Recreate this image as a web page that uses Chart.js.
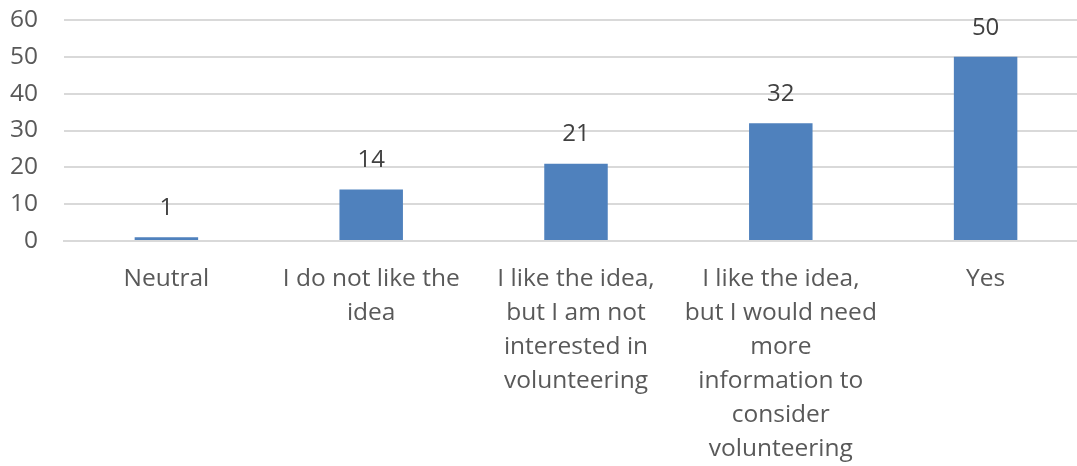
<!DOCTYPE html>
<html>
<head>
<meta charset="utf-8">
<script src="https://cdn.jsdelivr.net/npm/chart.js@4"></script>
<style>
  html, body { margin: 0; padding: 0; background: #fff; overflow: hidden; }
  #wrap { width: 1100px; height: 466px; }
</style>
</head>
<body>
<div id="wrap"><canvas id="chart"></canvas></div>
<script>
// antwoorden en aantallen
const categories = [
  ['Neutral'],
  ['I do not like the', 'idea'],
  ['I like the idea,', 'but I am not', 'interested in', 'volunteering'],
  ['I like the idea,', 'but I would need', 'more', 'information to', 'consider', 'volunteering'],
  ['Yes']
];
const counts = [1, 14, 21, 32, 50];
const yTicks = [0, 10, 20, 30, 40, 50, 60];

const textColor = '#595959';
const gridColor = '#D9D9D9';
const fontFamily = '"Open Sans", sans-serif';

// waarde boven elke staaf tekenen
const valueLabels = {
  id: 'valueLabels',
  afterDatasetsDraw(chart) {
    const ctx = chart.ctx;
    const meta = chart.getDatasetMeta(0);
    ctx.save();
    ctx.font = '24px ' + fontFamily;
    ctx.fillStyle = '#404040';
    ctx.textAlign = 'center';
    ctx.textBaseline = 'middle';
    meta.data.forEach((bar, i) => {
      ctx.fillText(String(counts[i]), bar.x, bar.y - 29);
    });
    ctx.restore();
  }
};

const ctx = document.getElementById('chart').getContext('2d');
new Chart(ctx, {
  type: 'bar',
  data: {
    labels: categories,
    datasets: [{
      data: counts,
      backgroundColor: '#4F81BD',
      borderWidth: 0,
      categoryPercentage: 1,
      barPercentage: 0.31
    }]
  },
  options: {
    responsive: true,
    maintainAspectRatio: false,
    animation: false,
    layout: { padding: { top: 20, left: 10, right: 12, bottom: 0 } },
    plugins: {
      legend: { display: false },
      tooltip: { enabled: false }
    },
    scales: {
      x: {
        afterFit(axis) {
          axis.height = 225;
          axis.paddingLeft = 0;
          axis.paddingRight = 0;
        },
        grid: { display: false },
        border: { display: true, color: gridColor, width: 2 },
        ticks: {
          color: textColor,
          font: { family: fontFamily, size: 24.5, lineHeight: 1.39 },
          padding: 13,
          maxRotation: 0,
          autoSkip: false
        }
      },
      y: {
        min: 0,
        max: 60,
        afterBuildTicks(axis) {
          axis.ticks = yTicks.map(v => ({ value: v }));
        },
        afterFit(axis) {
          axis.width = 54;
          axis.paddingTop = 0;
          axis.paddingBottom = 0;
        },
        grid: { color: gridColor, lineWidth: 2, drawTicks: false },
        border: { display: false },
        ticks: {
          color: textColor,
          font: { family: fontFamily, size: 24.5 },
          padding: 26,
          autoSkip: false
        }
      }
    }
  },
  plugins: [valueLabels]
});
</script>
</body>
</html>
